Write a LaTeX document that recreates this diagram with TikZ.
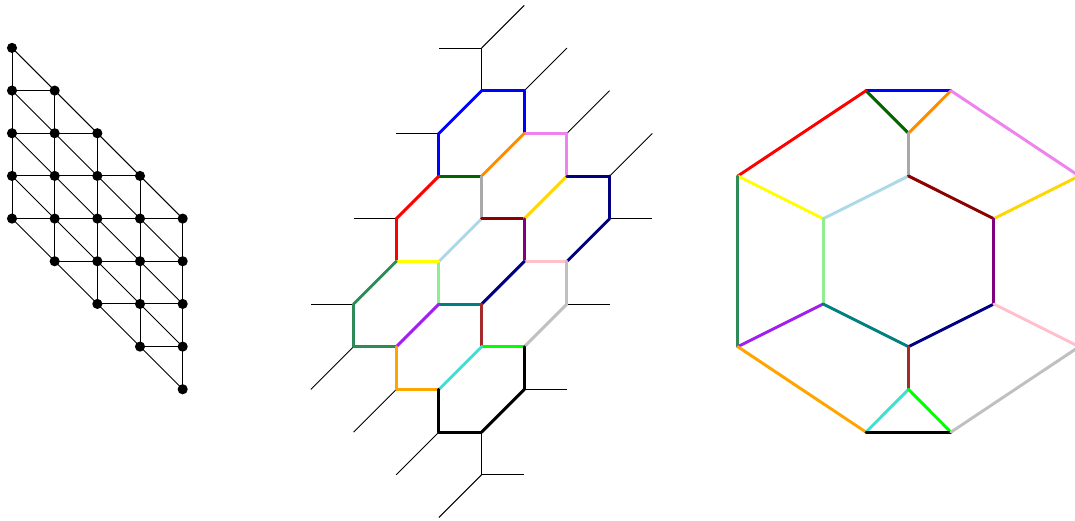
\documentclass[tikz,border=0pt]{standalone}
\definecolor{cDarkGreen}{HTML}{006400}
\definecolor{cDarkOrange}{HTML}{FF8C00}
\definecolor{cViolet}{HTML}{EE82EE}
\definecolor{cDarkGray}{HTML}{A9A9A9}
\definecolor{cDarkRed}{HTML}{8B0000}
\definecolor{cLightBlue}{HTML}{ADD8E6}
\definecolor{cGold}{HTML}{FFD700}
\definecolor{cPurple}{HTML}{800080}
\definecolor{cNavy}{HTML}{000080}
\definecolor{cPink}{HTML}{FFC0CB}
\definecolor{cSilver}{HTML}{C0C0C0}
\definecolor{cSeaGreen}{HTML}{2E8B57}
\definecolor{cLightGreen}{HTML}{90EE90}
\definecolor{cTeal}{HTML}{008080}
\definecolor{cAPurple}{HTML}{A020F0}
\definecolor{cOrange}{HTML}{FFA500}
\definecolor{cBrown}{HTML}{A52A2A}
\definecolor{cTurquoise}{HTML}{40E0D0}
\definecolor{cGreen}{HTML}{00FF00}
\definecolor{cBlue}{HTML}{0000FF}
\definecolor{cRed}{HTML}{FF0000}
\definecolor{cYellow}{HTML}{FFFF00}
\definecolor{cBlack}{HTML}{000000}
\tikzset{
  dotnode/.style={circle,fill=black,draw=none,inner sep=0pt,minimum size=7.6pt},
  thinedge/.style={draw=black,line width=0.7pt},
  coloredge/.style={line width=2.2pt,line cap=round}
}
\begin{document}
\begin{tikzpicture}[x=0.75pt,y=-0.75pt]
\clip (0,0) rectangle (1075,521);
% ---------- left: triangular grid
\foreach \c in {0,...,4}{
  \pgfmathtruncatemacro{\rlast}{\c+4}
  \foreach \r in {\c,...,\rlast}{
    \coordinate (p-\c-\r) at ({12+42.67*\c},{47.9+42.67*\r});
  }
}
\foreach \c in {0,...,4}{
  \pgfmathtruncatemacro{\rlast}{\c+3}
  \foreach \r in {\c,...,\rlast}{
    \pgfmathtruncatemacro{\rn}{\r+1}
    \draw[thinedge] (p-\c-\r) -- (p-\c-\rn);
  }
}
\foreach \c in {0,...,3}{
  \pgfmathtruncatemacro{\cn}{\c+1}
  \pgfmathtruncatemacro{\rfirst}{\c+1}
  \pgfmathtruncatemacro{\rlast}{\c+4}
  \foreach \r in {\rfirst,...,\rlast}{
    \draw[thinedge] (p-\c-\r) -- (p-\cn-\r);
  }
  \foreach \r in {\c,...,\rlast}{
    \pgfmathtruncatemacro{\rn}{\r+1}
    \draw[thinedge] (p-\c-\r) -- (p-\cn-\rn);
  }
}
\foreach \c in {0,...,4}{
  \pgfmathtruncatemacro{\rlast}{\c+4}
  \foreach \r in {\c,...,\rlast}{
    \node[dotnode] (l-\c-\r) at (p-\c-\r) {};
  }
}
% ---------- middle: hexagonal lattice
\foreach \i in {0,...,8}{
  \foreach \j in {0,...,12}{
    \coordinate (m-\i-\j) at ({310.9+42.67*\i},{5.4+42.67*\j});
  }
}
\foreach \a/\b in {4-1/3-1,4-1/5-0,4-1/4-2,5-2/6-1,3-3/2-3,6-3/7-2,2-5/1-5,7-4/8-3,7-5/8-5,
  6-7/7-7,1-7/0-7,1-8/0-9,2-9/1-10,3-10/2-11,5-9/6-9,4-10/4-11,4-11/5-11,4-11/3-12}{
  \draw[thinedge] (m-\a) -- (m-\b);
}
\foreach \a/\b/\col in {3-3/4-2/cBlue,4-2/5-2/cBlue,5-2/5-3/cBlue,3-3/3-4/cBlue,
  5-3/6-3/cViolet,6-3/6-4/cViolet,
  5-3/4-4/cDarkOrange,3-4/4-4/cDarkGreen,4-4/4-5/cDarkGray,
  3-4/2-5/cRed,2-5/2-6/cRed,
  4-5/3-6/cLightBlue,4-5/5-5/cDarkRed,5-5/6-4/cGold,5-5/5-6/cPurple,
  6-4/7-4/cNavy,7-4/7-5/cNavy,7-5/6-6/cNavy,
  5-6/6-6/cPink,6-6/6-7/cSilver,6-7/5-8/cSilver,
  5-6/4-7/cNavy,3-7/4-7/cTeal,3-6/3-7/cLightGreen,2-6/3-6/cYellow,
  2-6/1-7/cSeaGreen,1-7/1-8/cSeaGreen,1-8/2-8/cSeaGreen,
  2-8/3-7/cAPurple,4-7/4-8/cBrown,4-8/5-8/cGreen,4-8/3-9/cTurquoise,
  2-8/2-9/cOrange,2-9/3-9/cOrange,
  3-9/3-10/cBlack,3-10/4-10/cBlack,4-10/5-9/cBlack,5-9/5-8/cBlack}{
  \draw[coloredge,draw=\col] (m-\a) -- (m-\b);
}
% ---------- right: contracted graph
\coordinate (A) at (866,90.7);
\coordinate (B) at (950.9,90.7);
\coordinate (C) at (908.5,133.3);
\coordinate (D) at (908.5,176);
\coordinate (E) at (737.8,176);
\coordinate (F) at (1079.2,176);
\coordinate (G) at (823.2,218.7);
\coordinate (H) at (993.8,218.7);
\coordinate (I) at (823.2,304);
\coordinate (J) at (993.8,304);
\coordinate (K) at (737.8,346.7);
\coordinate (L) at (1079.2,346.7);
\coordinate (M) at (908.5,346.7);
\coordinate (N) at (908.5,389.4);
\coordinate (O) at (866,432.15);
\coordinate (P) at (950.9,432.15);
\foreach \a/\b/\col in {A/B/cBlue,A/C/cDarkGreen,C/B/cDarkOrange,C/D/cDarkGray,
  A/E/cRed,B/F/cViolet,E/G/cYellow,G/D/cLightBlue,D/H/cDarkRed,H/F/cGold,
  G/I/cLightGreen,H/J/cPurple,E/K/cSeaGreen,I/K/cAPurple,I/M/cTeal,J/M/cNavy,
  J/L/cPink,K/O/cOrange,M/N/cBrown,N/O/cTurquoise,N/P/cGreen,O/P/cBlack,P/L/cSilver}{
  \draw[coloredge,draw=\col] (\a) -- (\b);
}
\end{tikzpicture}
\end{document}
